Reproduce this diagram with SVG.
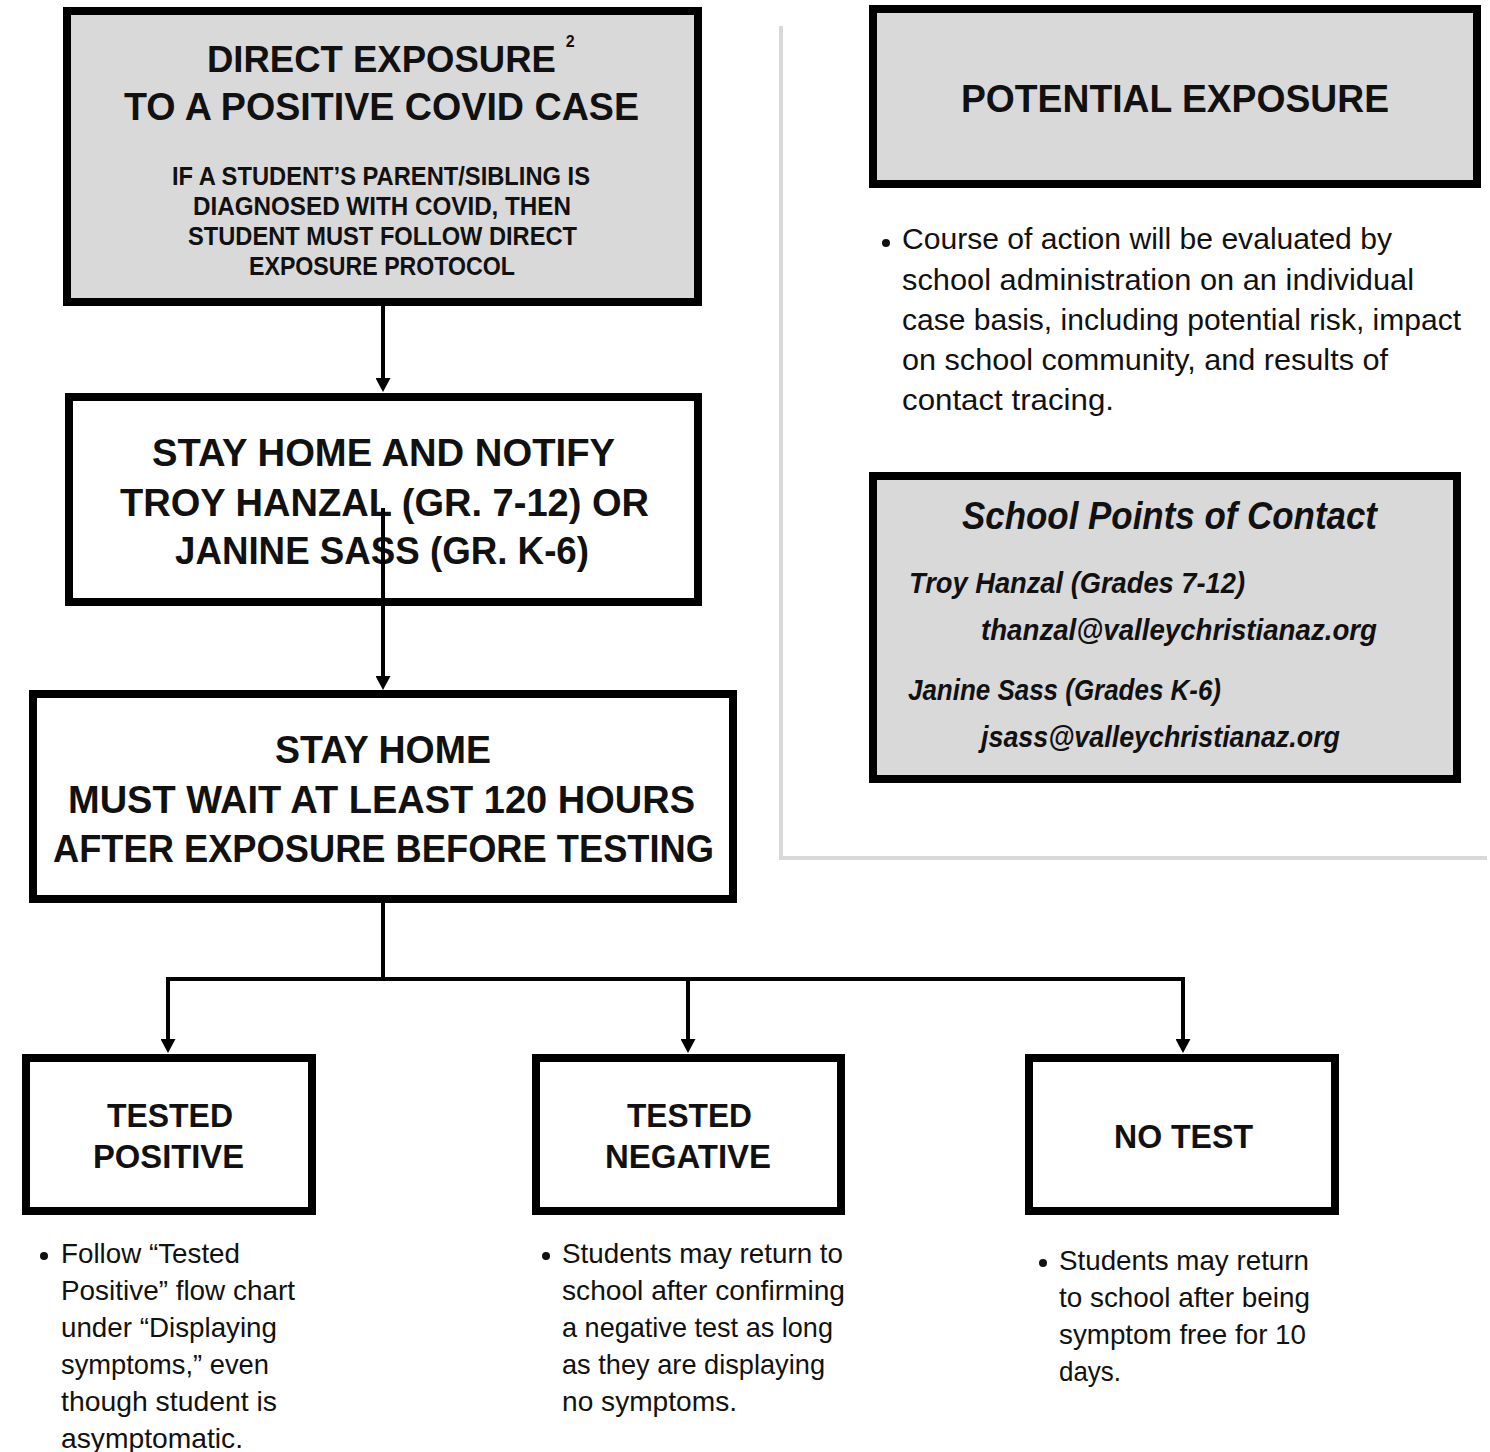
<svg xmlns="http://www.w3.org/2000/svg" width="1490" height="1452" viewBox="0 0 1490 1452">
<defs>
<style>
.box{stroke:#000;stroke-width:8;}
.gray{fill:#d9d9d9;}
.white{fill:#fff;}
.h{font-family:"Liberation Sans",Arial,sans-serif;font-weight:bold;fill:#111;}
.b{font-family:"Liberation Sans",Arial,sans-serif;fill:#111;}
.bi{font-family:"Liberation Sans",Arial,sans-serif;font-weight:bold;font-style:italic;fill:#111;}
.conn{stroke:#000;stroke-width:4;fill:none;}
</style>
<marker id="arr" markerUnits="userSpaceOnUse" markerWidth="14" markerHeight="15" viewBox="0 0 14 15" refX="0" refY="7.5" orient="auto">
<path d="M0,0 L14,7.5 L0,15 Z" fill="#000"/>
</marker>
</defs>
<rect width="1490" height="1452" fill="#fff"/>

<g id="divider">
<path d="M781,26 V858 H1487" stroke="#d9d9d9" stroke-width="4" fill="none"/>
</g>

<g id="direct-exposure">
<rect class="box gray" x="67" y="11" width="631" height="291"/>
<text class="h" x="207" y="72" font-size="36.5">DIRECT EXPOSURE<tspan dx="10" dy="-25" font-size="16">2</tspan></text>
<text class="h" x="124" y="120" font-size="38" textLength="515" lengthAdjust="spacingAndGlyphs">TO A POSITIVE COVID CASE</text>
<text class="h" x="172" y="185" font-size="25" textLength="418" lengthAdjust="spacingAndGlyphs">IF A STUDENT’S PARENT/SIBLING IS</text>
<text class="h" x="193" y="215" font-size="25" textLength="378" lengthAdjust="spacingAndGlyphs">DIAGNOSED WITH COVID, THEN</text>
<text class="h" x="188" y="245" font-size="25" textLength="389" lengthAdjust="spacingAndGlyphs">STUDENT MUST FOLLOW DIRECT</text>
<text class="h" x="249" y="275" font-size="25" textLength="266" lengthAdjust="spacingAndGlyphs">EXPOSURE PROTOCOL</text>
</g>

<g id="notify">
<rect class="box white" x="69" y="397" width="629" height="205"/>
<text class="h" x="152" y="466" font-size="38" textLength="463" lengthAdjust="spacingAndGlyphs">STAY HOME AND NOTIFY</text>
<text class="h" x="120" y="516" font-size="38" textLength="529" lengthAdjust="spacingAndGlyphs">TROY HANZAL (GR. 7-12) OR</text>
<text class="h" x="175" y="564" font-size="38" textLength="414" lengthAdjust="spacingAndGlyphs">JANINE SASS (GR. K-6)</text>
</g>

<g id="stay-home-wait">
<rect class="box white" x="33" y="694" width="700" height="205"/>
<text class="h" x="275" y="763" font-size="38" textLength="216" lengthAdjust="spacingAndGlyphs">STAY HOME</text>
<text class="h" x="68" y="813" font-size="38" textLength="627" lengthAdjust="spacingAndGlyphs">MUST WAIT AT LEAST 120 HOURS</text>
<text class="h" x="53" y="862" font-size="38" textLength="661" lengthAdjust="spacingAndGlyphs">AFTER EXPOSURE BEFORE TESTING</text>
</g>

<g id="connectors">
<path class="conn" d="M383,306 V378" marker-end="url(#arr)"/>
<path class="conn" d="M383,508 V676" marker-end="url(#arr)"/>
<path class="conn" d="M383,903 V979"/>
<path class="conn" d="M168,1039 V979 H1183 V1039" marker-end="url(#arr)"/>
<path class="conn" d="M168,979 V1039" marker-end="url(#arr)"/>
<path class="conn" d="M688,979 V1039" marker-end="url(#arr)"/>
</g>

<g id="tested-positive">
<rect class="box white" x="26" y="1058" width="286" height="153"/>
<text class="h" x="107" y="1127" font-size="33" textLength="126" lengthAdjust="spacingAndGlyphs">TESTED</text>
<text class="h" x="93" y="1168" font-size="33" textLength="151" lengthAdjust="spacingAndGlyphs">POSITIVE</text>
</g>
<g id="tested-positive-note">
<circle cx="44" cy="1256" r="4" fill="#111"/>
<text class="b" x="61" y="1263" font-size="28" textLength="179" lengthAdjust="spacingAndGlyphs">Follow “Tested</text>
<text class="b" x="61" y="1300" font-size="28" textLength="234" lengthAdjust="spacingAndGlyphs">Positive” flow chart</text>
<text class="b" x="61" y="1337" font-size="28" textLength="216" lengthAdjust="spacingAndGlyphs">under “Displaying</text>
<text class="b" x="61" y="1374" font-size="28" textLength="208" lengthAdjust="spacingAndGlyphs">symptoms,” even</text>
<text class="b" x="61" y="1411" font-size="28" textLength="216" lengthAdjust="spacingAndGlyphs">though student is</text>
<text class="b" x="61" y="1448" font-size="28" textLength="182" lengthAdjust="spacingAndGlyphs">asymptomatic.</text>
</g>

<g id="tested-negative">
<rect class="box white" x="536" y="1058" width="305" height="153"/>
<text class="h" x="627" y="1127" font-size="33" textLength="125" lengthAdjust="spacingAndGlyphs">TESTED</text>
<text class="h" x="605" y="1168" font-size="33" textLength="166" lengthAdjust="spacingAndGlyphs">NEGATIVE</text>
</g>
<g id="tested-negative-note">
<circle cx="546" cy="1256" r="4" fill="#111"/>
<text class="b" x="562" y="1263" font-size="28" textLength="281" lengthAdjust="spacingAndGlyphs">Students may return to</text>
<text class="b" x="562" y="1300" font-size="28" textLength="283" lengthAdjust="spacingAndGlyphs">school after confirming</text>
<text class="b" x="562" y="1337" font-size="28" textLength="271" lengthAdjust="spacingAndGlyphs">a negative test as long</text>
<text class="b" x="562" y="1374" font-size="28" textLength="263" lengthAdjust="spacingAndGlyphs">as they are displaying</text>
<text class="b" x="562" y="1411" font-size="28" textLength="175" lengthAdjust="spacingAndGlyphs">no symptoms.</text>
</g>

<g id="no-test">
<rect class="box white" x="1029" y="1058" width="306" height="153"/>
<text class="h" x="1114" y="1148" font-size="33" textLength="139" lengthAdjust="spacingAndGlyphs">NO TEST</text>
</g>
<g id="no-test-note">
<circle cx="1043" cy="1263" r="4" fill="#111"/>
<text class="b" x="1059" y="1270" font-size="28" textLength="250" lengthAdjust="spacingAndGlyphs">Students may return</text>
<text class="b" x="1059" y="1307" font-size="28" textLength="251" lengthAdjust="spacingAndGlyphs">to school after being</text>
<text class="b" x="1059" y="1344" font-size="28" textLength="247" lengthAdjust="spacingAndGlyphs">symptom free for 10</text>
<text class="b" x="1059" y="1381" font-size="28" textLength="62" lengthAdjust="spacingAndGlyphs">days.</text>
</g>

<g id="potential-exposure">
<rect class="box gray" x="873" y="9" width="604" height="175"/>
<text class="h" x="961" y="112" font-size="38" textLength="428" lengthAdjust="spacingAndGlyphs">POTENTIAL EXPOSURE</text>
</g>
<g id="potential-exposure-note">
<circle cx="886" cy="243" r="4" fill="#111"/>
<text class="b" x="902" y="249" font-size="30" textLength="490" lengthAdjust="spacingAndGlyphs">Course of action will be evaluated by</text>
<text class="b" x="902" y="290" font-size="30" textLength="512" lengthAdjust="spacingAndGlyphs">school administration on an individual</text>
<text class="b" x="902" y="330" font-size="30" textLength="559" lengthAdjust="spacingAndGlyphs">case basis, including potential risk, impact</text>
<text class="b" x="902" y="370" font-size="30" textLength="486" lengthAdjust="spacingAndGlyphs">on school community, and results of</text>
<text class="b" x="902" y="410" font-size="30" textLength="212" lengthAdjust="spacingAndGlyphs">contact tracing.</text>
</g>

<g id="points-of-contact">
<rect class="box gray" x="873" y="476" width="584" height="303"/>
<text class="bi" x="962" y="529" font-size="38" textLength="415" lengthAdjust="spacingAndGlyphs">School Points of Contact</text>
<text class="bi" x="909" y="593" font-size="30" textLength="336" lengthAdjust="spacingAndGlyphs">Troy Hanzal (Grades 7-12)</text>
<text class="bi" x="981" y="640" font-size="30" textLength="396" lengthAdjust="spacingAndGlyphs">thanzal@valleychristianaz.org</text>
<text class="bi" x="908" y="700" font-size="30" textLength="313" lengthAdjust="spacingAndGlyphs">Janine Sass (Grades K-6)</text>
<text class="bi" x="981" y="747" font-size="30" textLength="359" lengthAdjust="spacingAndGlyphs">jsass@valleychristianaz.org</text>
</g>
</svg>
